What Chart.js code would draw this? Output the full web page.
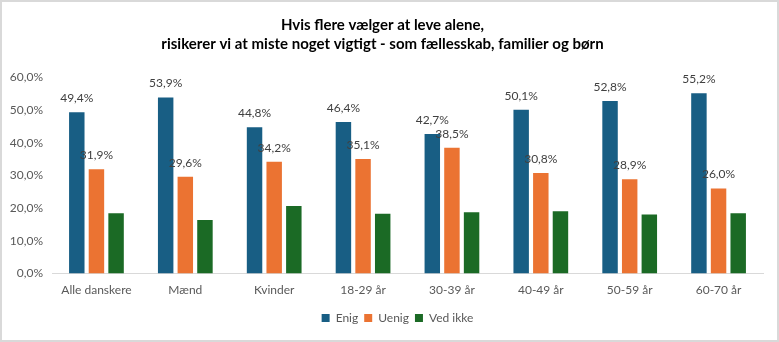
<!DOCTYPE html>
<html>
<head>
<meta charset="utf-8">
<script src="https://cdn.jsdelivr.net/npm/chart.js@4"></script>
<style>
  html, body { margin: 0; padding: 0; background: #fff; }
  #wrap { width: 779px; height: 342px; box-sizing: border-box; border: 2px solid #d9d9d9; position: relative; }
  #wrap canvas { display: block; }
</style>
</head>
<body>
<div id="wrap"><canvas id="chart" width="775" height="338"></canvas></div>
<script>
var categories = ['Alle danskere', 'Mænd', 'Kvinder', '18-29 år', '30-39 år', '40-49 år', '50-59 år', '60-70 år'];
var enig = [49.4, 53.9, 44.8, 46.4, 42.7, 50.1, 52.8, 55.2];
var uenig = [31.9, 29.6, 34.2, 35.1, 38.5, 30.8, 28.9, 26.0];
var ved_ikke = [18.5, 16.4, 20.7, 18.3, 18.8, 19.1, 18.1, 18.5];
var y_ticks = [0, 10, 20, 30, 40, 50, 60];

var font_family = 'Lato, "Open Sans", sans-serif';

function pct(v, digits) {
    return v.toFixed(digits).replace('.', ',') + '%';
}

// labels above the bars, only for the series that have show_labels set
var bar_labels = {
    id: 'bar_labels',
    afterDatasetsDraw: function(chart) {
        var ctx = chart.ctx;
        ctx.save();
        ctx.font = '12px ' + font_family;
        ctx.fillStyle = '#404040';
        ctx.textAlign = 'center';
        ctx.textBaseline = 'middle';
        chart.data.datasets.forEach(function(ds, i) {
            if (!ds.show_labels) return;
            chart.getDatasetMeta(i).data.forEach(function(bar, j) {
                ctx.fillText(pct(ds.data[j], 1), bar.x, bar.y - 14);
            });
        });
        ctx.restore();
    }
};

// the legend sits a bit right of centre in the original
var legend_shift = {
    id: 'legend_shift',
    afterLayout: function(chart) {
        chart.legend.left += 15;
        chart.legend.right += 15;
    }
};

var chart_data = {
    labels: categories,
    datasets: [
        {label: 'Enig', data: enig, backgroundColor: '#185E84', show_labels: true},
        {label: 'Uenig', data: uenig, backgroundColor: '#EB7332', show_labels: true},
        {label: 'Ved ikke', data: ved_ikke, backgroundColor: '#1B6A25', show_labels: false}
    ]
};

new Chart(document.getElementById('chart'), {
    type: 'bar',
    data: chart_data,
    plugins: [bar_labels, legend_shift],
    options: {
        responsive: false,
        animation: false,
        datasets: {
            bar: {categoryPercentage: 0.663, barPercentage: 0.787}
        },
        layout: {padding: {left: 0, right: 14, top: 0, bottom: 6}},
        scales: {
            x: {
                grid: {display: false, drawTicks: false},
                border: {display: true, color: '#d9d9d9', width: 1},
                ticks: {color: '#595959', font: {family: font_family, size: 12}, padding: 9}
            },
            y: {
                min: 0,
                max: 60,
                afterBuildTicks: function(axis) {
                    axis.ticks = y_ticks.map(function(v) { return {value: v}; });
                },
                afterFit: function(axis) { axis.width = 50; },
                grid: {display: false, drawTicks: false},
                border: {display: false},
                ticks: {
                    color: '#595959',
                    font: {family: font_family, size: 12},
                    padding: 9,
                    callback: function(v) { return pct(v, 1); }
                }
            }
        },
        plugins: {
            title: {
                display: true,
                text: ['Hvis flere vælger at leve alene,', 'risikerer vi at miste noget vigtigt - som fællesskab, familier og børn'],
                color: '#000',
                font: {family: font_family, size: 15, weight: 'bold', lineHeight: 1.25},
                padding: {top: 14, bottom: 24}
            },
            legend: {
                position: 'bottom',
                labels: {
                    boxWidth: 8,
                    boxHeight: 8,
                    color: '#595959',
                    font: {family: font_family, size: 12},
                    padding: 6
                }
            },
            tooltip: {enabled: false}
        }
    }
});
</script>
</body>
</html>
